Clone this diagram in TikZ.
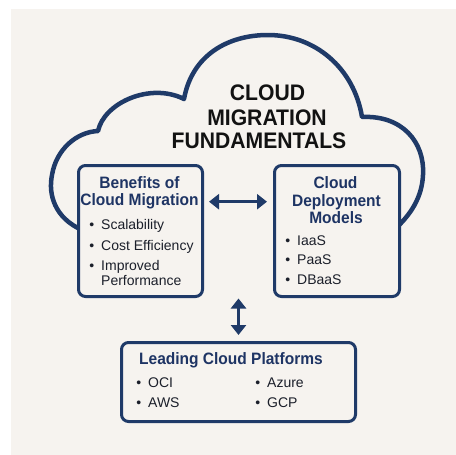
\documentclass[tikz,border=0pt]{standalone}
\usepackage{fontspec}
\setmainfont{Liberation Sans}
\newfontfamily\condfont{Liberation Sans}[FakeStretch=0.94]
\usetikzlibrary{arrows.meta}
\definecolor{navy}{HTML}{1F3A68}
\definecolor{headc}{HTML}{1E3464}
\definecolor{bodyc}{HTML}{1B1F2A}
\definecolor{titlec}{HTML}{121212}
\definecolor{bgc}{HTML}{F6F3EF}
\tikzset{
  box/.style={draw=navy, line width=3pt, rounded corners=7pt, fill=bgc, inner sep=0pt, outer sep=0pt},
  titletext/.style={anchor=base, inner sep=0pt, text=titlec, font=\condfont\bfseries\fontsize{22.5}{27}\selectfont},
  headtext/.style={anchor=base, inner sep=0pt, text=headc, font=\condfont\bfseries\fontsize{16.5}{19}\selectfont},
  itemtext/.style={anchor=base west, inner sep=0pt, text=bodyc, font=\fontsize{14}{16}\selectfont},
  dblarrow/.style={draw=navy, line width=3.5pt, {Triangle[length=10pt,width=15pt]}-{Triangle[length=10pt,width=15pt]}},
  cloudline/.style={draw=navy, line width=4.5pt, line join=round, line cap=round}
}
\newcommand{\bul}{\llap{\textbullet\hspace{7pt}}}
\begin{document}
\begin{tikzpicture}[x=1pt,y=-1pt]
\useasboundingbox (0,0) rectangle (456,455);
\fill[white] (0,0) rectangle (456,455);
\fill[bgc] (11,9) rectangle (456,455);
% cloud
\draw[cloudline] (82,230) .. controls (55,218) and (48,195) .. (52,175)
  .. controls (56,150) and (76,132) .. (98,131)
  .. controls (104,103) and (150,82) .. (184,99)
  .. controls (192,55) and (228,35) .. (268,35)
  .. controls (315,35) and (354,68) .. (362,117)
  .. controls (402,115) and (425,142) .. (423,175)
  .. controls (422,198) and (410,215) .. (396,228);
% boxes
\node[box, minimum width=124pt, minimum height=131pt] (ben) at (140.5,231) {};
\node[box, minimum width=125pt, minimum height=131pt] (dep) at (337,231) {};
\node[box, minimum width=234pt, minimum height=79pt] (plat) at (238.5,382) {};
% title
\node[titletext] (t1) at (267.5,100.7) {CLOUD};
\node[titletext] (t2) at (267,125) {MIGRATION};
\node[titletext] (t3) at (259,148) {FUNDAMENTALS};
% benefits
\node[headtext] (bh1) at (139.5,188) {Benefits of};
\node[headtext] (bh2) at (139.5,205.5) {Cloud Migration};
\node[itemtext] (b1) at (101,229) {\bul Scalability};
\node[itemtext] (b2) at (101,250) {\bul Cost Efficiency};
\node[itemtext] (b3) at (101,270) {\bul Improved};
\node[itemtext] (b3b) at (101,285.5) {Performance};
% deployment
\node[headtext] (dh1) at (335.5,188) {Cloud};
\node[headtext] (dh2) at (336.5,206) {Deployment};
\node[headtext] (dh3) at (336,223) {Models};
\node[itemtext] (d1) at (297,245) {\bul IaaS};
\node[itemtext] (d2) at (297,264.5) {\bul PaaS};
\node[itemtext] (d3) at (297,284) {\bul DBaaS};
% platforms
\node[headtext, anchor=base west] (ph) at (139,364) {Leading Cloud Platforms};
\node[itemtext] (p1) at (148,387) {\bul OCI};
\node[itemtext] (p2) at (148,407) {\bul AWS};
\node[itemtext] (p3) at (267,387) {\bul Azure};
\node[itemtext] (p4) at (267,407) {\bul GCP};
% arrows
\draw[dblarrow, shorten <=6.5pt, shorten >=7.5pt] ([yshift=29.3pt]ben.east) -- ([yshift=29.3pt]dep.west);
\coordinate (vtop) at (238.5,298.5);
\draw[dblarrow, shorten >=7.5pt] (vtop) -- (plat.north);
\end{tikzpicture}
\end{document}
